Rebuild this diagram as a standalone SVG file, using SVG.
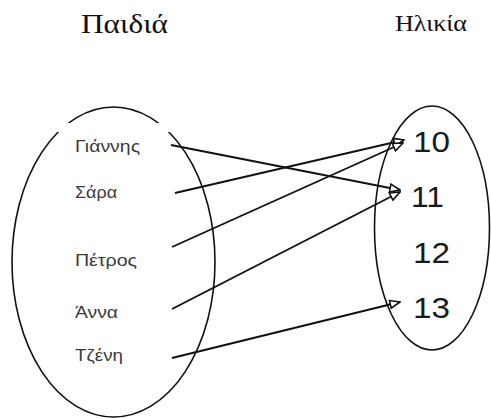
<svg xmlns="http://www.w3.org/2000/svg" width="491" height="419" viewBox="0 0 491 419">
<style>
.title{font-family:"Liberation Serif","DejaVu Serif",serif;fill:#111}
.name{font-family:"Liberation Sans","DejaVu Sans",sans-serif;font-size:16px;fill:#3a3a3a}
.num{font-family:"Liberation Sans","DejaVu Sans",sans-serif;font-size:29px;fill:#1a1a1a}
.set{fill:none;stroke:#111;stroke-width:1.6}
.edge{fill:none;stroke:#111;stroke-width:1.9;marker-end:url(#arr)}
</style>
<defs>
<marker id="arr" viewBox="0 0 12 10" refX="11" refY="5" markerWidth="12" markerHeight="10" markerUnits="userSpaceOnUse" orient="auto">
<path d="M1,1 L11,5 L1,9 Z" fill="#fff" stroke="#111" stroke-width="1.6"/>
</marker>
</defs>
<rect width="491" height="419" fill="#fff"/>
<text class="title" x="81" y="33" font-size="28" textLength="87" lengthAdjust="spacingAndGlyphs">Παιδιά</text>
<text class="title" x="395" y="31" font-size="23" textLength="72" lengthAdjust="spacingAndGlyphs">Ηλικία</text>
<g id="set-children">
<ellipse class="set" cx="113.5" cy="262" rx="101.5" ry="155"/>
<rect x="45" y="123" width="135" height="9" fill="#fff"/>
</g>
<g id="set-ages">
<ellipse class="set" cx="432" cy="228" rx="57.5" ry="122"/>
</g>
<g id="n-giannis"><text class="name" x="75" y="152" textLength="65" lengthAdjust="spacingAndGlyphs">Γιάννης</text></g>
<g id="n-sara"><text class="name" x="75" y="198" textLength="42" lengthAdjust="spacingAndGlyphs">Σάρα</text></g>
<g id="n-petros"><text class="name" x="75" y="266" textLength="62" lengthAdjust="spacingAndGlyphs">Πέτρος</text></g>
<g id="n-anna"><text class="name" x="75" y="318" textLength="43" lengthAdjust="spacingAndGlyphs">Άννα</text></g>
<g id="n-jeni"><text class="name" x="75" y="361" textLength="48" lengthAdjust="spacingAndGlyphs">Τζένη</text></g>
<g id="n-10"><text class="num" x="413" y="152" textLength="37" lengthAdjust="spacingAndGlyphs">10</text></g>
<g id="n-11"><text class="num" x="411" y="207" textLength="33" lengthAdjust="spacingAndGlyphs">11</text></g>
<g id="n-12"><text class="num" x="413" y="263" textLength="37" lengthAdjust="spacingAndGlyphs">12</text></g>
<g id="n-13"><text class="num" x="413" y="318" textLength="37" lengthAdjust="spacingAndGlyphs">13</text></g>
<g id="connectors">
<line class="edge" x1="171" y1="145" x2="400" y2="190"/>
<line class="edge" x1="175" y1="193" x2="404" y2="140"/>
<line class="edge" x1="172" y1="247" x2="403" y2="143"/>
<line class="edge" x1="172" y1="309" x2="400" y2="192"/>
<line class="edge" x1="172" y1="358" x2="400" y2="302"/>
</g>
</svg>
